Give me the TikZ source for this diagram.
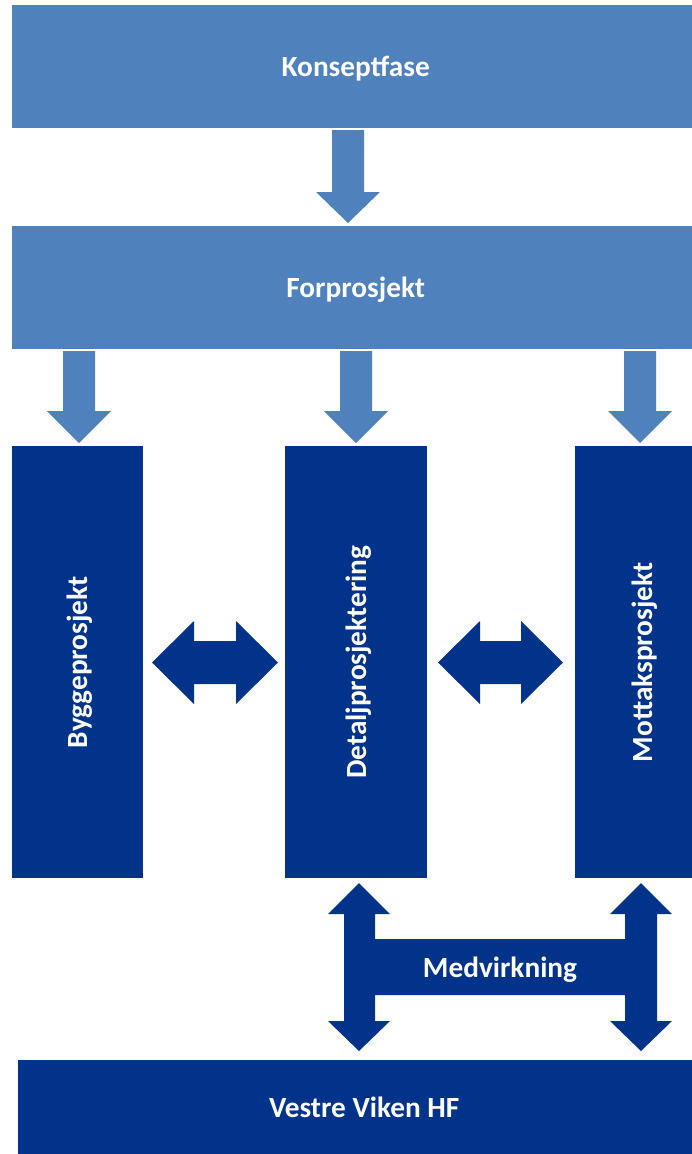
\documentclass[tikz,border=0pt]{standalone}
\usepackage{fontspec}
\setmainfont{Carlito}
\definecolor{lightblue}{HTML}{4F81BD}
\definecolor{darkblue}{HTML}{02338A}
\begin{document}
\begin{tikzpicture}[x=1pt,y=-1pt,
  txt/.style={text=white,font=\fontsize{29.3}{33}\selectfont\bfseries,text depth=0pt},
  lbox/.style={fill=lightblue,inner sep=0pt,anchor=north west,txt},
  dbox/.style={fill=darkblue,inner sep=0pt,anchor=north west,txt},
  larrow/.style={fill=lightblue},
  darrow/.style={fill=darkblue}]
\useasboundingbox (0,0) rectangle (692,1154);
\clip (0,0) rectangle (692,1154);
% boxes
\node[lbox,minimum width=687pt,minimum height=123pt] (konsept) at (12,5) {Konseptfase};
\node[lbox,minimum width=687pt,minimum height=123pt] (forpro) at (12,226) {Forprosjekt};
\node[dbox,minimum width=131pt,minimum height=432pt] (bygg) at (12,446) {};
\node[dbox,minimum width=142pt,minimum height=432pt] (detalj) at (285,446) {};
\node[dbox,minimum width=134pt,minimum height=432pt] (mottak) at (575,446) {};
\node[dbox,minimum width=692pt,minimum height=94pt] (vestre) at (18,1060) {Vestre Viken HF};
\node[rotate=90,txt,inner sep=0pt] (byggtxt) at (bygg.center) {Byggeprosjekt};
\node[rotate=90,txt,inner sep=0pt] (detaljtxt) at (detalj.center) {Detaljprosjektering};
\node[rotate=90,txt,inner sep=0pt] (mottaktxt) at (mottak.center) {Mottaksprosjekt};
% down arrow Konseptfase -> Forprosjekt
\fill[larrow] (332,130) -- (364,130) -- (364,192) -- (380,192) -- (348,223) -- (316,192) -- (332,192) -- cycle;
% down arrows Forprosjekt -> columns
\foreach \cx in {79,356,640}{
  \fill[larrow] (\cx-16,351) -- (\cx+16,351) -- (\cx+16,411) -- (\cx+32,411) -- (\cx,443) -- (\cx-32,411) -- (\cx-16,411) -- cycle;
}
% horizontal double arrows
\foreach \l/\r in {152/278,438/563}{
  \fill[darrow] (\l,662.5) -- (\l+42,621) -- (\l+42,641) -- (\r-42,641) -- (\r-42,621) -- (\r,662.5)
     -- (\r-42,704) -- (\r-42,684) -- (\l+42,684) -- (\l+42,704) -- cycle;
}
% Medvirkning shape
\fill[darrow] (359,883) -- (390,914) -- (375,914) -- (375,939) -- (625,939) -- (625,914) -- (610,914)
  -- (641,883) -- (672,914) -- (657,914) -- (657,1021) -- (672,1021) -- (641,1051) -- (610,1021)
  -- (625,1021) -- (625,995) -- (375,995) -- (375,1021) -- (390,1021) -- (359,1051) -- (328,1021)
  -- (344,1021) -- (344,914) -- (328,914) -- cycle;
\node[txt,inner sep=0pt] (medv) at (500,967) {Medvirkning};
\end{tikzpicture}
\end{document}
